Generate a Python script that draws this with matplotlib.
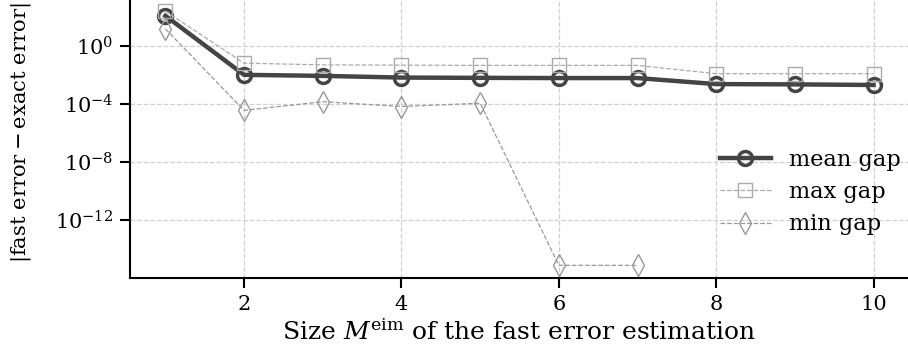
import matplotlib
matplotlib.use("Agg")
import matplotlib.pyplot as plt

plt.rcParams['font.family'] = ['DejaVu Serif']
plt.rcParams['mathtext.fontset'] = 'dejavuserif'

M = [1, 2, 3, 4, 5, 6, 7, 8, 9, 10]
mean_gap = [1.2e2, 1.0e-2, 8.5e-3, 6.5e-3, 6.2e-3, 6.0e-3, 6.0e-3, 2.3e-3, 2.2e-3, 2.0e-3]
max_gap = [2.5e2, 6.4e-2, 4.9e-2, 4.7e-2, 4.5e-2, 4.5e-2, 4.5e-2, 1.2e-2, 1.2e-2, 1.2e-2]
min_gap = [1.5e1, 3.5e-5, 1.4e-4, 6.5e-5, 1.1e-4, 7e-16, 7e-16]
min_M = M[:len(min_gap)]

fig = plt.figure(figsize=(9.08, 3.56), dpi=100)
ax = fig.add_axes([130/908, 78/356, 779/908, 279.6/356])

ax.plot(M, mean_gap, '-o', color='#444444', lw=3.2, ms=10, mfc='none', mew=2.5, label='mean gap')
ax.plot(M, max_gap, '--s', color='#aaaaaa', lw=0.9, ms=9.5, mfc='none', mew=1.0, label='max gap')
ax.plot(min_M, min_gap, '--d', color='#999999', lw=0.9, ms=11, mfc='none', mew=1.0, label='min gap')

ax.set_yscale('log')
ax.set_xlim(0.55, 10.45)
ax.set_ylim(10**-16.03, 10**3.28)
ax.set_yticks([1e0, 1e-4, 1e-8, 1e-12])
ax.minorticks_off()
ax.set_xticks([2, 4, 6, 8, 10])
ax.grid(True, ls='--', color='#d0d0d0', lw=0.9)
for s in ['top', 'right']:
    ax.spines[s].set_visible(False)
ax.spines['left'].set_linewidth(1.5)
ax.spines['bottom'].set_linewidth(1.5)
ax.tick_params(axis='both', labelsize=15, width=1.5, length=7, pad=5)

ax.set_xlabel(r'Size $M^{\rm eim}$ of the fast error estimation', fontsize=18, labelpad=4)
ax.set_ylabel(r'$|\mathrm{fast\ error} - \mathrm{exact\ error}|$', fontsize=15.2)
ax.yaxis.set_label_coords(-0.125, 0.52)
ax.legend(loc='lower right', bbox_to_anchor=(1.015, 0.08), frameon=False, fontsize=16.2,
          handlelength=2.25, labelspacing=0.45, handletextpad=0.8)

fig.savefig('out.png', dpi=100)
